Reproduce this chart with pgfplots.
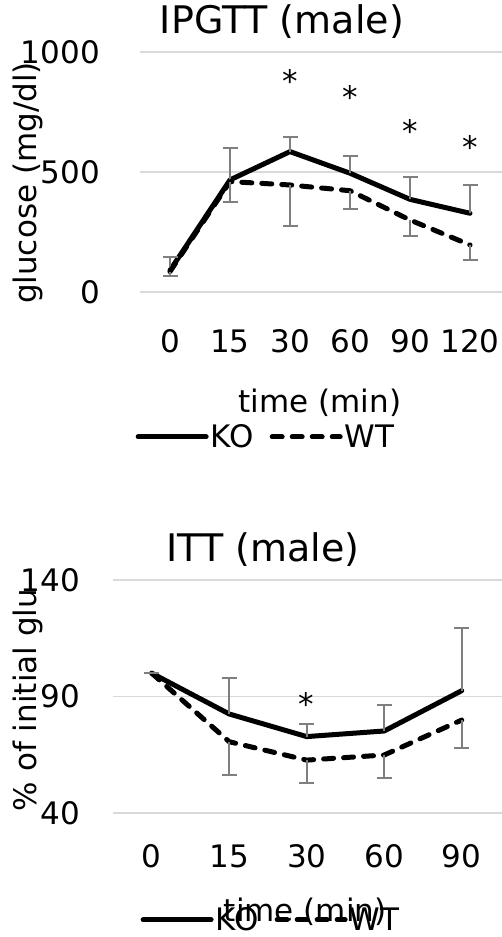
\documentclass[border=0pt]{standalone}
\usepackage{fontspec}
\setmainfont{DejaVu Sans}
\usepackage{pgfplots}
\usepackage{pgfplotstable}
\pgfplotsset{compat=1.18}
\definecolor{gridc}{HTML}{D9D9D9}
\definecolor{errc}{HTML}{7F7F7F}

\pgfplotstableread{
x ko koe wt wte
0 90 55 85 18
1 467 134 460 84
2 585 61 446 171
3 495 73 422 77
4 386 92 300 67
5 328 118 196 63
}\topdata

\pgfplotstableread{
x ko koe wt wte
0 100 0 100 0
1 82.5 15.3 70.6 14.3
2 72.8 5.4 62.7 10.0
3 75.2 11.2 64.9 9.7
4 92.5 26.8 79.9 12.1
}\botdata

\newcommand{\fs}{\fontsize{31}{36}\selectfont}
\newcommand{\ft}{\fontsize{38}{44}\selectfont}

\pgfplotsset{
  common/.style={
    scale only axis,
    axis line style={draw=none},
    major tick length=0pt,
    ymajorgrids,
    grid style={gridc, line width=1.5pt},
    /pgf/number format/assume math mode=true,
    /pgf/number format/1000 sep={},
    tick label style={font=\fs},
    yticklabel style={anchor=east, inner sep=0pt},
    xticklabel style={anchor=center, inner sep=0pt},
    xtick=data,
    label style={font=\fs},
    title style={font=\ft, anchor=center},
    legend style={draw=none, fill=none, font=\fs, legend columns=2, anchor=center,
      /tikz/every even column/.append style={column sep=14pt}},
    legend image code/.code={\draw[#1] (0pt,0pt) -- (68pt,0pt);},
    clip=false,
  },
  ko/.style={black, line width=5pt, line cap=round, line join=round, mark=none,
    error bars/.cd, y dir=plus, y explicit,
    error bar style={errc, line width=2pt, solid, line cap=butt},
    error mark options={errc, rotate=90, mark size=7.5pt, line width=2pt, solid}},
  wt/.style={black, line width=5pt, line cap=round, line join=round, mark=none,
    dash pattern=on 10pt off 10pt,
    error bars/.cd, y dir=minus, y explicit,
    error bar style={errc, line width=2pt, solid, line cap=butt},
    error mark options={errc, rotate=90, mark size=7.5pt, line width=2pt, solid}},
  star/.style={only marks, mark=text, text mark={*}, text mark as node=true, forget plot,
    text mark style={font=\fs, inner sep=0pt}, mark options={black}},
}

\begin{document}
\begin{tikzpicture}
\useasboundingbox (0,0) rectangle (502pt,-937pt);

\begin{axis}[common,
  at={(140pt,-292pt)}, anchor=south west,
  width=362pt, height=240pt,
  xmin=-0.5, xmax=5.533, ymin=0, ymax=1000,
  ytick={0,500,1000},
  xticklabels={0,15,30,60,90,120},
  yticklabel style={xshift=-40pt},
  xticklabel style={yshift=-49pt},
  title={IPGTT (male)},
  title style={at={(axis description cs:0.392,1.1)}},
  xlabel={time (min)},
  xlabel style={at={(axis description cs:0.497,-0.4625)}, anchor=center},
  ylabel={glucose (mg/dl)},
  ylabel style={at={(axis description cs:-0.309,0.454)}, anchor=center},
  legend style={at={(axis description cs:0.348,-0.604)}},
]
\addplot[ko] table[x=x, y=ko, y error=koe] {\topdata};
\addlegendentry{KO}
\addplot[wt] table[x=x, y=wt, y error=wte] {\topdata};
\addlegendentry{WT}
\addplot[star] coordinates {(2,880) (3,813) (4,672) (5,605)};
\end{axis}

\begin{axis}[common,
  at={(113pt,-813pt)}, anchor=south west,
  width=389pt, height=233pt,
  xmin=-0.5, xmax=4.52, ymin=40, ymax=140,
  ytick={40,90,140},
  xticklabels={0,15,30,60,90},
  yticklabel style={xshift=-33pt},
  xticklabel style={yshift=-43pt},
  title={ITT (male)},
  title style={at={(axis description cs:0.386,1.107)}},
  xlabel={time (min)},
  xlabel style={at={(axis description cs:0.494,-0.425)}, anchor=center},
  ylabel={\% of initial glu},
  ylabel style={at={(axis description cs:-0.2185,0.485)}, anchor=center},
  legend style={at={(axis description cs:0.406,-0.458)}},
]
\addplot[ko] table[x=x, y=ko, y error=koe] {\botdata};
\addlegendentry{KO}
\addplot[wt] table[x=x, y=wt, y error=wte] {\botdata};
\addlegendentry{WT}
\addplot[star] coordinates {(2,87)};
\end{axis}
\end{tikzpicture}
\end{document}
